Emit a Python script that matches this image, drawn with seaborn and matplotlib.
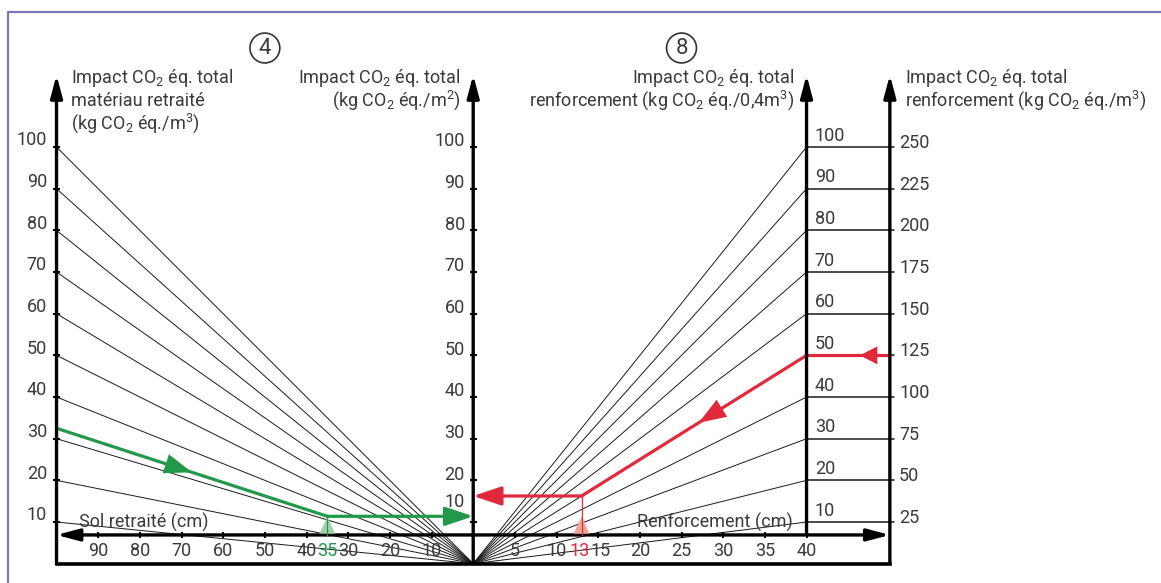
import numpy as np
import pandas as pd
import matplotlib
matplotlib.use("Agg")
import matplotlib.pyplot as plt
import seaborn as sns

# nomogram data
fan_values = [10, 20, 30, 40, 50, 60, 70, 80, 90, 100]          # kg CO2 éq. scales
sol_ticks = [90, 80, 70, 60, 50, 40, 30, 20, 10]                # Sol retraité (cm)
renf_ticks = [5, 10, 15, 20, 25, 30, 35, 40]                    # Renforcement (cm)
renf_m3_labels = [25, 50, 75, 100, 125, 150, 175, 200, 225, 250]  # kg CO2 éq./m3
sol_max = 100
renf_max = 40

# worked examples
green_impact = 32.5   # matériau retraité, kg CO2 éq./m3
green_thick = 35      # cm
red_impact_m3 = 125   # renforcement, kg CO2 éq./m3
red_thick = 13        # cm

sns.set_style("white")
fam = 'Roboto'
plt.rcParams['font.family'] = [fam, 'DejaVu Sans']
plt.rcParams['mathtext.fontset'] = 'custom'
plt.rcParams['mathtext.rm'] = fam
plt.rcParams['mathtext.it'] = fam

W, H = 1161, 583
k = 4.1667             # pixels per unit
ox, oy = 473.2, 563.7  # origin of the fan in pixels

fig = plt.figure(figsize=(W / 100, H / 100), dpi=100)
ax = fig.add_axes([0, 0, 1, 1])

x_left = -sol_max
x_inner = 2 * renf_max
x_far = 100
y_axis = 6.9
y_top = 117.3
fs = 13
tc = '#3a3a3a'

def xr(t):
    return t * x_inner / renf_max

# fan lines
rows = []
for v in fan_values:
    rows += [('L%d' % v, 0, 0), ('L%d' % v, x_left, v)]
    rows += [('R%d' % v, 0, 0), ('R%d' % v, x_inner, v)]
fan = pd.DataFrame(rows, columns=['line', 'x', 'y'])
sns.lineplot(data=fan, x='x', y='y', units='line', estimator=None, sort=False,
             color='#1a1a1a', lw=0.7, ax=ax, legend=False)

# horizontal links between the two right scales
links = pd.DataFrame([('H%d' % v, xx, v) for v in fan_values for xx in (x_inner, x_far + 1.0)],
                     columns=['line', 'x', 'y'])
sns.lineplot(data=links, x='x', y='y', units='line', estimator=None, sort=False,
             color='#1a1a1a', lw=1.1, ax=ax, legend=False)

# axes with arrows
arr = dict(arrowstyle='-|>,head_length=0.75,head_width=0.2', lw=2.4, color='black',
           shrinkA=0, shrinkB=0, mutation_scale=18)
for xx, y0 in [(x_left, 0), (0, 0), (x_inner, y_axis), (x_far, 0)]:
    ax.annotate('', xy=(xx, y_top), xytext=(xx, y0), arrowprops=arr)
ax.annotate('', xy=(x_left, y_axis), xytext=(0, y_axis), arrowprops=arr)
ax.annotate('', xy=(x_far, y_axis), xytext=(0, y_axis), arrowprops=arr)
ax.plot([x_left, x_far], [0, 0], color='black', lw=2.6, solid_capstyle='projecting')

# ticks
ax.hlines(fan_values, x_left - 0.85, x_left + 0.85, color='black', lw=1.5)
ax.hlines(fan_values, -0.85, 0.85, color='black', lw=1.5)
ax.vlines([-t for t in sol_ticks] + [xr(t) for t in renf_ticks], y_axis - 0.7, y_axis + 0.7,
          color='black', lw=1.5)

# tick labels
for v in fan_values:
    ax.text(x_left - 2.3, v + 1.6, str(v), ha='right', va='center', fontsize=fs, color=tc)
    ax.text(-2.0, v + (4.9 if v == 10 else 1.4), str(v), ha='right', va='center',
            fontsize=fs, color=tc)
    ax.text(x_inner + 2.0, v + 2.7, str(v), ha='left', va='center', fontsize=fs, color=tc)
for v, lab in zip(fan_values, renf_m3_labels):
    ax.text(x_far + 2.2, v + 1.0, str(lab), ha='left', va='center', fontsize=fs, color=tc)
for t in sol_ticks:
    ax.text(-t, 3.0, str(t), ha='center', va='center', fontsize=fs, color=tc)
for t in renf_ticks:
    ax.text(xr(t) + (0.6 if t == 15 else 0), 3.0, str(t), ha='center', va='center',
            fontsize=fs, color=tc)

green = '#22994a'
red = '#e02a3c'
mid = dict(arrowstyle='-|>,head_length=1.1,head_width=0.4', lw=0,
           shrinkA=0, shrinkB=0, mutation_scale=18)
small = dict(arrowstyle='-|>,head_length=0.7,head_width=0.36', lw=0,
             shrinkA=0, shrinkB=0, mutation_scale=18)
end = dict(arrowstyle='-|>,head_length=0.95,head_width=0.32', lw=2.3,
           shrinkA=0, shrinkB=0, mutation_scale=18)

# green example
gx = -green_thick
gy = green_impact * green_thick / sol_max
ax.text(gx, 3.0, str(green_thick), ha='center', va='center', fontsize=fs, color=green)
ax.fill([gx - 1.9, gx + 1.9, gx], [y_axis + 0.3, y_axis + 0.3, y_axis + 4.4],
        color='#9fd1ac', lw=0, zorder=4)
ax.plot([gx, gx], [y_axis, gy], color=green, lw=0.9, zorder=4)
ax.plot([x_left, gx], [green_impact, gy], color=green, lw=2.3)
ax.annotate('', xy=(0, gy), xytext=(gx, gy), arrowprops={**end, 'color': green})
p = np.array([x_left, green_impact]) + 0.5 * np.array([gx - x_left, gy - green_impact])
d = np.array([gx - x_left, gy - green_impact]) * 0.08
ax.annotate('', xy=tuple(p), xytext=tuple(p - d), arrowprops={**mid, 'color': green})

# red example
r_inner = red_impact_m3 * 0.4
rx = xr(red_thick)
ry = r_inner * red_thick / renf_max
ax.text(rx - 0.4, 3.0, str(red_thick), ha='center', va='center', fontsize=fs, color=red)
ax.fill([rx - 1.9, rx + 1.9, rx], [y_axis + 0.3, y_axis + 0.3, y_axis + 4.4],
        color='#f2a397', lw=0, zorder=4)
ax.plot([rx, rx], [y_axis, ry], color=red, lw=0.9, zorder=4)
ax.plot([x_far, x_inner], [r_inner, r_inner], color=red, lw=2.3)
ax.plot([x_inner, rx], [r_inner, ry], color=red, lw=2.3)
ax.annotate('', xy=(0, ry), xytext=(rx, ry), arrowprops={**end, 'color': red})
ax.annotate('', xy=(x_far - 7.2, r_inner), xytext=(x_far - 4, r_inner),
            arrowprops={**small, 'color': red})
p = np.array([x_inner, r_inner]) + 0.48 * np.array([rx - x_inner, ry - r_inner])
d = np.array([rx - x_inner, ry - r_inner]) * 0.08
ax.annotate('', xy=tuple(p), xytext=tuple(p - d), arrowprops={**mid, 'color': red})

# axis names
ax.text(-94.7, 9.8, 'Sol retraité (cm)', ha='left', va='center', fontsize=fs, color=tc)
ax.text(76.7, 9.8, 'Renforcement (cm)', ha='right', va='center', fontsize=fs, color=tc)

def title(x, lines, ha):
    for i, s in enumerate(lines):
        ax.text(x, (oy - 83 - 23 * i) / k, s, ha=ha, va='baseline', fontsize=fs, color=tc)

title(-96.6, ['Impact CO$_2$ éq. total', 'matériau retraité', '(kg CO$_2$ éq./m$^3$)'], 'left')
title(-3.1, ['Impact CO$_2$ éq. total', '(kg CO$_2$ éq./m$^2$)'], 'right')
title(77.0, ['Impact CO$_2$ éq. total', 'renforcement (kg CO$_2$ éq./0,4m$^3$)'], 'right')
title(103.6, ['Impact CO$_2$ éq. total', 'renforcement (kg CO$_2$ éq./m$^3$)'], 'left')

for xx, s in [(-50, '4'), (50, '8')]:
    ax.text(xx, (oy - 48) / k, s, ha='center', va='center', fontsize=16, color=tc,
            bbox=dict(boxstyle='circle,pad=0.2', fc='white', ec='#333333', lw=1.2))

ax.set_xlim(-ox / k, (W - ox) / k)
ax.set_ylim((oy - H) / k, oy / k)
ax.axis('off')

# page frame
fig.add_artist(plt.Line2D([8 / W, 8 / W, 1], [0, 1 - 12 / H, 1 - 12 / H],
                          color='#7b78b8', lw=1.6))

fig.savefig('out.png', dpi=100)
